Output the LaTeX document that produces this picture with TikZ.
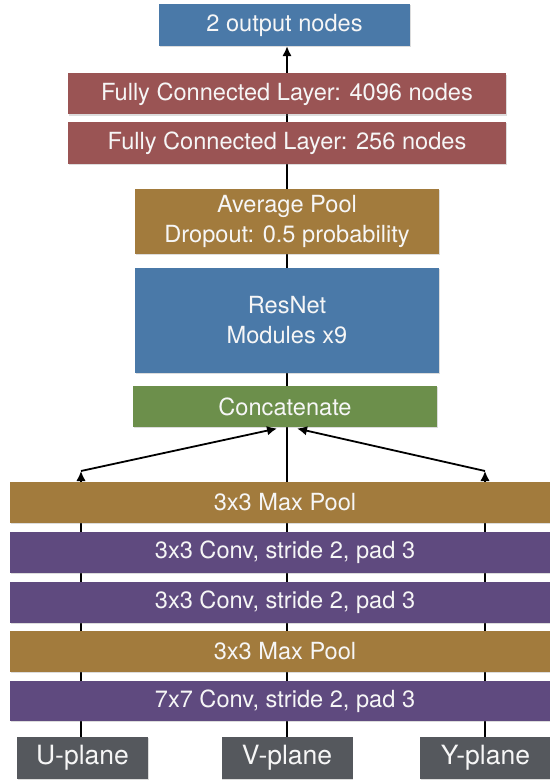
\documentclass[tikz,border=0pt]{standalone}
\usepackage{fontspec}
\setmainfont{TeX Gyre Heros}
\usetikzlibrary{arrows.meta,shadows,backgrounds}
\definecolor{cblue}{HTML}{4A79A8}
\definecolor{cred}{HTML}{9A5454}
\definecolor{cbrown}{HTML}{A27B3D}
\definecolor{cgreen}{HTML}{6C8F4B}
\definecolor{cpurple}{HTML}{5F4A7F}
\definecolor{cgrey}{HTML}{55585D}
\definecolor{ctext}{HTML}{F6F6F6}
\begin{document}
\begin{tikzpicture}[x=1pt,y=-1pt,
  box/.style={rectangle, inner sep=0pt, text=ctext, align=center,
    font=\fontsize{23.6}{30}\selectfont,
    drop shadow={shadow xshift=0.6pt,shadow yshift=-1.3pt,opacity=0.28}},
  conn/.style={line width=1.8pt, draw=black},
  arr/.style={conn, -{Latex[length=10pt,width=9.5pt]}}]
\useasboundingbox (0,0) rectangle (549,783);
% top column
\node[box, fill=cblue,  minimum width=251pt, minimum height=42pt]  (out) at (284.5,25)  {2 output nodes};
\node[box, fill=cred,   minimum width=438pt, minimum height=41pt]  (fc1) at (287,94)    {Fully Connected Layer: 4096 nodes};
\node[box, fill=cred,   minimum width=438pt, minimum height=42pt]  (fc2) at (287,143)   {Fully Connected Layer: 256 nodes};
\node[box, fill=cbrown, minimum width=304pt, minimum height=65pt]  (avg) at (287,221.5) {Average Pool\\Dropout: 0.5 probability};
\node[box, fill=cblue,  minimum width=304pt, minimum height=105pt] (res) at (287,320.5) {ResNet\\Modules x9};
\node[box, fill=cgreen, minimum width=304pt, minimum height=41pt]  (cat) at (285,406.5) {Concatenate};
% wide layers
\node[box, fill=cbrown,  minimum width=550pt, minimum height=41pt] (mp1) at (285,502.5) {3x3 Max Pool};
\node[box, fill=cpurple, minimum width=550pt, minimum height=41pt] (cv1) at (285,552.5) {3x3 Conv, stride 2, pad 3};
\node[box, fill=cpurple, minimum width=550pt, minimum height=41pt] (cv2) at (285,602.5) {3x3 Conv, stride 2, pad 3};
\node[box, fill=cbrown,  minimum width=550pt, minimum height=41pt] (mp2) at (285,651.5) {3x3 Max Pool};
\node[box, fill=cpurple, minimum width=550pt, minimum height=40pt] (cv7) at (285,701)   {7x7 Conv, stride 2, pad 3};
% inputs
\node[box, fill=cgrey, minimum width=131pt, minimum height=42pt, font=\fontsize{26.5}{30}\selectfont] (U) at (82.5,758)  {U-plane};
\node[box, fill=cgrey, minimum width=131pt, minimum height=42pt, font=\fontsize{26.5}{30}\selectfont] (V) at (287,758)   {V-plane};
\node[box, fill=cgrey, minimum width=131pt, minimum height=42pt, font=\fontsize{26.5}{30}\selectfont] (Y) at (485.5,758) {Y-plane};
% junctions
\coordinate (uj) at (81,471);
\coordinate (yj) at (485,471);
\coordinate (cl) at (277,428.5);
\coordinate (cr) at (297,428.5);
\begin{scope}[on background layer]
  \draw[arr] (V.north) -- (V.north |- out.south);
  \draw[arr] (uj |- U.north) -- (uj);
  \draw[arr] (yj |- Y.north) -- (yj);
\end{scope}
\draw[arr] (uj) -- (cl);
\draw[arr] (yj) -- (cr);
\end{tikzpicture}
\end{document}
